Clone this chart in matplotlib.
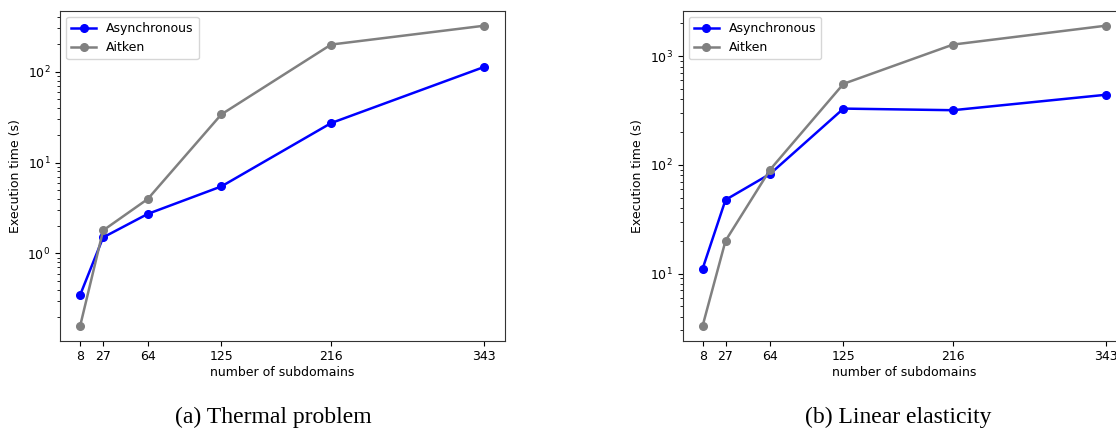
import matplotlib
matplotlib.use("Agg")
import matplotlib.pyplot as plt

subdomains = [8, 27, 64, 125, 216, 343]

thermal_async = [0.35, 1.5, 2.72, 5.46, 27.2, 113]
thermal_aitken = [0.16, 1.79, 3.97, 33.9, 199, 321]

elastic_async = [11.1, 47.6, 82.4, 329, 318, 441]
elastic_aitken = [3.31, 20.0, 90.2, 556, 1277, 1905]

captions = ["(a) Thermal problem", "(b) Linear elasticity"]

W, H = 1116, 430
fig = plt.figure(figsize=(W / 100, H / 100), dpi=100)

# axes boxes in pixels: left, top, width, height
boxes = [(60, 10.7, 444.5, 330), (682.5, 10.7, 443.5, 330)]
series = [(thermal_async, thermal_aitken), (elastic_async, elastic_aitken)]
cap_x = [273.5, 898]

for (left, top, w, h), (a, b), cap, cx in zip(boxes, series, captions, cap_x):
    ax = fig.add_axes([left / W, (H - top - h) / H, w / W, h / H])
    ax.plot(subdomains, a, "-o", color="blue", lw=1.8, ms=5.5, label="Asynchronous")
    ax.plot(subdomains, b, "-o", color="gray", lw=1.8, ms=5.5, label="Aitken")
    ax.set_yscale("log")
    ax.set_xticks(subdomains)
    ax.tick_params(labelsize=9)
    ax.set_xlabel("number of subdomains", fontsize=9, labelpad=2)
    ax.set_ylabel("Execution time (s)", fontsize=9)
    ax.legend(loc="upper left", fontsize=9)
    for s in ax.spines.values():
        s.set_color("#333333")
    fig.text(cx / W, 1 - 417 / H, cap, ha="center", va="center",
             fontsize=17, family="Liberation Serif")

fig.savefig("out.png", dpi=100)
